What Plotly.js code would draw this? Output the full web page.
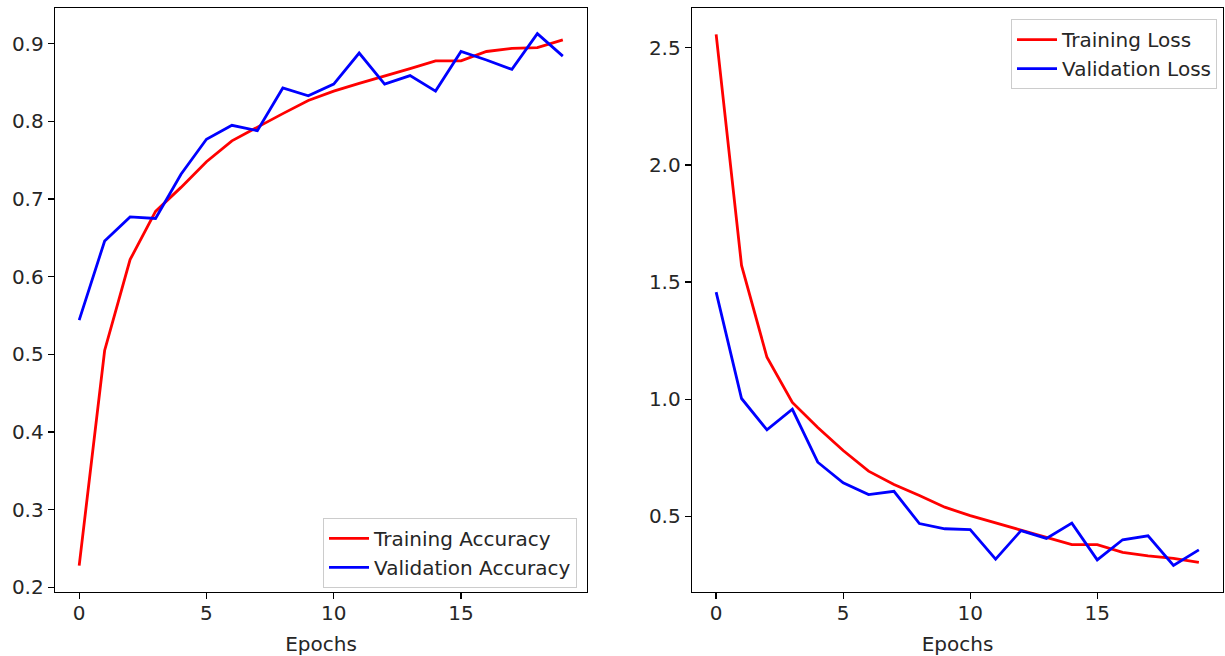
<!DOCTYPE html>
<html>
<head>
<meta charset="utf-8">
<script src="https://cdn.plot.ly/plotly-3.0.1.min.js"></script>
<style>html,body{margin:0;padding:0;background:#fff;}#chart{width:1225px;height:656px;}</style>
</head>
<body>
<div id="chart"></div>
<script>
const epochs = [0,1,2,3,4,5,6,7,8,9,10,11,12,13,14,15,16,17,18,19];
const trainAcc = [0.228,0.505,0.622,0.684,0.715,0.748,0.775,0.793,0.810,0.827,0.839,0.849,0.859,0.868,0.878,0.878,0.890,0.894,0.895,0.905];
const valAcc = [0.544,0.646,0.677,0.675,0.732,0.777,0.795,0.788,0.843,0.833,0.848,0.888,0.848,0.859,0.839,0.890,0.879,0.867,0.913,0.884];
const trainLoss = [2.557,1.571,1.179,0.986,0.879,0.781,0.693,0.636,0.589,0.539,0.503,0.471,0.439,0.410,0.379,0.379,0.346,0.331,0.321,0.303];
const valLoss = [1.457,1.003,0.869,0.957,0.731,0.643,0.593,0.607,0.469,0.447,0.443,0.317,0.439,0.406,0.471,0.314,0.400,0.417,0.290,0.357];
const xTicks = [0,5,10,15];
const accTicks = [0.2,0.3,0.4,0.5,0.6,0.7,0.8,0.9];
const lossTicks = [0.5,1.0,1.5,2.0,2.5];

const W = 1225;
const font = {family: 'DejaVu Sans', size: 20, color: '#262626'};
const lw = 2.8;

const traces = [
  {x: epochs, y: trainAcc, type: 'scatter', mode: 'lines', name: 'Training Accuracy', line: {color: '#ff0000', width: lw}, xaxis: 'x', yaxis: 'y', legend: 'legend'},
  {x: epochs, y: valAcc, type: 'scatter', mode: 'lines', name: 'Validation Accuracy', line: {color: '#0000ff', width: lw}, xaxis: 'x', yaxis: 'y', legend: 'legend'},
  {x: epochs, y: trainLoss, type: 'scatter', mode: 'lines', name: 'Training Loss', line: {color: '#ff0000', width: lw}, xaxis: 'x2', yaxis: 'y2', legend: 'legend2'},
  {x: epochs, y: valLoss, type: 'scatter', mode: 'lines', name: 'Validation Loss', line: {color: '#0000ff', width: lw}, xaxis: 'x2', yaxis: 'y2', legend: 'legend2'}
];

function xAxis(domain, anchor) {
  return {
    domain: domain, anchor: anchor, range: [-0.95, 19.95],
    tickmode: 'array', tickvals: xTicks, ticktext: xTicks.map(String),
    ticks: 'outside', ticklen: 6, tickwidth: 1.3, tickcolor: '#000',
    ticklabelstandoff: -3,
    showline: true, mirror: true, linecolor: '#000', linewidth: 1.3,
    showgrid: false, zeroline: false, tickfont: font,
    title: {text: 'Epochs', font: font, standoff: 12}
  };
}
function yAxis(range, ticks, anchor) {
  return {
    range: range, anchor: anchor,
    tickmode: 'array', tickvals: ticks, ticktext: ticks.map(v => v.toFixed(1)),
    ticks: 'outside', ticklen: 6, tickwidth: 1.3, tickcolor: '#000',
    showline: true, mirror: true, linecolor: '#000', linewidth: 1.3,
    showgrid: false, zeroline: false, tickfont: font
  };
}

const legendStyle = {
  bgcolor: 'rgba(255,255,255,0.8)', bordercolor: '#cccccc', borderwidth: 1,
  font: font, tracegroupgap: 0, itemwidth: 40
};

const layout = {
  width: 1225, height: 656,
  margin: {l: 0, r: 0, t: 8, b: 64, pad: 0},
  paper_bgcolor: '#ffffff', plot_bgcolor: '#ffffff',
  font: font,
  showlegend: true,
  xaxis: xAxis([55/W, 587/W], 'y'),
  yaxis: yAxis([0.194, 0.946], accTicks, 'x'),
  xaxis2: xAxis([692/W, 1223/W], 'y2'),
  yaxis2: yAxis([0.177, 2.670], lossTicks, 'x2'),
  legend: Object.assign({x: 577/W, xanchor: 'right', y: 0.007, yanchor: 'bottom'}, legendStyle),
  legend2: Object.assign({x: 1217/W, xanchor: 'right', y: 0.981, yanchor: 'top'}, legendStyle)
};

Plotly.newPlot('chart', traces, layout, {displayModeBar: false, staticPlot: true});
</script>
</body>
</html>
